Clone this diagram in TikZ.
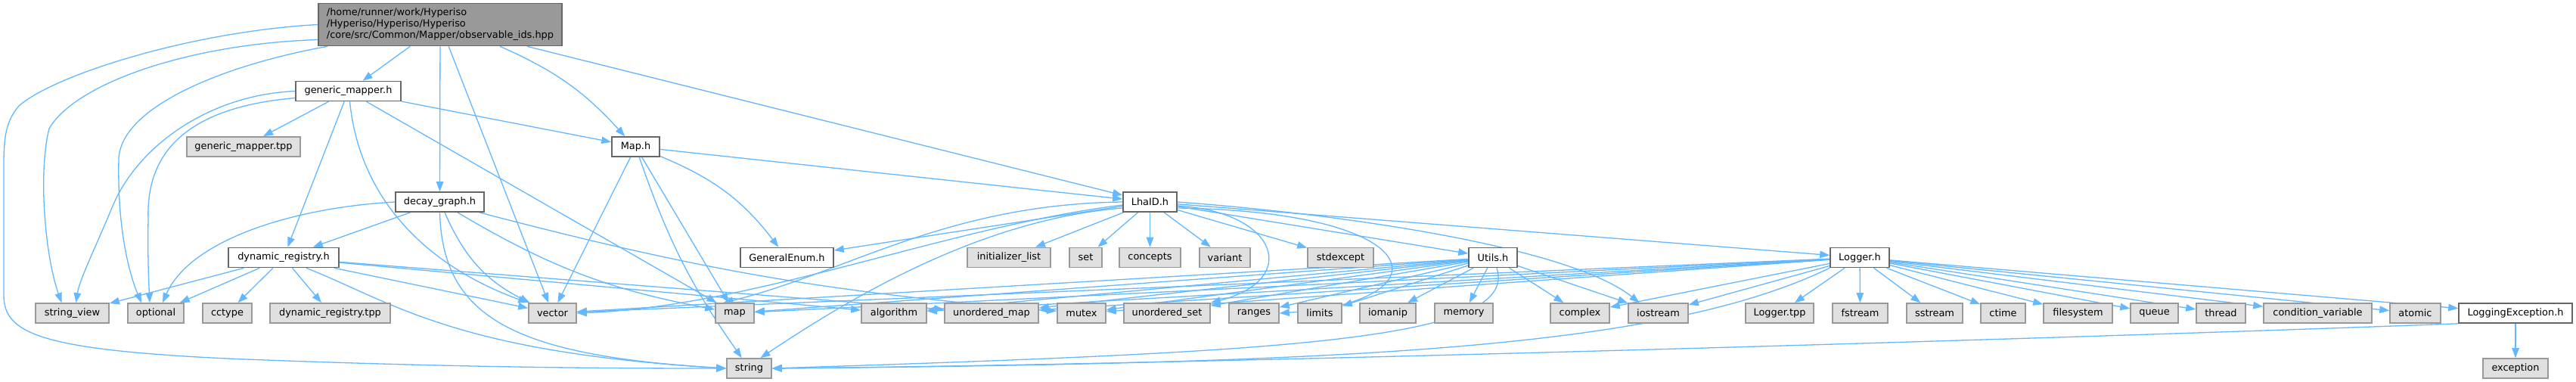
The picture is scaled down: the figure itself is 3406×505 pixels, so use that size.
\documentclass[tikz,border=0pt]{standalone}
\usepackage{fontspec}
\setmainfont{DejaVu Sans}
\usetikzlibrary{arrows.meta,backgrounds}
\definecolor{edgeblue}{HTML}{63B8FF}
\definecolor{rootfill}{HTML}{999999}
\definecolor{darkline}{HTML}{666666}
\definecolor{sysfill}{HTML}{E0E0E0}
\definecolor{sysline}{HTML}{999999}

\begin{document}
\begin{tikzpicture}[x=1pt, y=-1pt,
    boxfont/.style={font=\fontsize{12.9}{15}\selectfont, inner sep=0pt},
    mainh/.style={boxfont, draw=darkline, fill=rootfill, line width=1.6pt, minimum height=56, align=left},
    fileh/.style={boxfont, draw=darkline, fill=white, line width=1.6pt, minimum height=26},
    sysh/.style={boxfont, draw=sysline, fill=sysfill, line width=1.6pt, minimum height=26},
    dep/.style={draw=edgeblue, line width=1.3pt, -{Triangle[length=13pt,width=9.5pt]}}]
    \useasboundingbox (0,0) rectangle (3406,505);

    \node [mainh, minimum width=322] (obs) at (582,32.5) {/home/runner/work/Hyperiso\\/Hyperiso/Hyperiso/Hyperiso\\/core/src/Common/Mapper/observable\_ids.hpp};

    \node [fileh, minimum width=139] (gmapper) at (460.5,120.5) {generic\_mapper.h};
    \node [sysh, minimum width=150] (gmtpp) at (322,194) {generic\_mapper.tpp};
    \node [fileh, minimum width=63] (maph) at (840.5,194) {Map.h};
    \node [fileh, minimum width=117] (decay) at (581.5,267) {decay\_graph.h};
    \node [fileh, minimum width=71] (lhaid) at (1520.5,267) {LhaID.h};

    \node [fileh, minimum width=146] (dynreg) at (375,340.5) {dynamic\_registry.h};
    \node [fileh, minimum width=123] (genenum) at (1040.5,340.5) {GeneralEnum.h};
    \node [sysh, minimum width=110] (initlist) at (1334,340.5) {initializer\_list};
    \node [sysh, minimum width=43] (setinc) at (1435.5,340.5) {set};
    \node [sysh, minimum width=81] (concepts) at (1520.5,340.5) {concepts};
    \node [sysh, minimum width=67] (variant) at (1619.5,340.5) {variant};
    \node [sysh, minimum width=87] (stdexc) at (1772.5,340.5) {stdexcept};
    \node [fileh, minimum width=64] (utils) at (1974,340.5) {Utils.h};
    \node [fileh, minimum width=78] (logger) at (2459,340.5) {Logger.h};

    \node [sysh, minimum width=97] (sview) at (95.5,414) {string\_view};
    \node [sysh, minimum width=74] (opt) at (206,414) {optional};
    \node [sysh, minimum width=65] (cctype) at (300.5,414) {cctype};
    \node [sysh, minimum width=159] (dyntpp) at (436.5,414) {dynamic\_registry.tpp};
    \node [sysh, minimum width=63] (vector) at (730.5,414) {vector};
    \node [sysh, minimum width=51] (map) at (971.5,414) {map};
    \node [sysh, minimum width=86] (algo) at (1182,414) {algorithm};
    \node [sysh, minimum width=124] (umap) at (1311,414) {unordered\_map};
    \node [sysh, minimum width=64] (mutex) at (1430,414) {mutex};
    \node [sysh, minimum width=114] (uset) at (1543,414) {unordered\_set};
    \node [sysh, minimum width=66] (ranges) at (1658,414) {ranges};
    \node [sysh, minimum width=58] (limits) at (1745,414) {limits};
    \node [sysh, minimum width=74] (iomanip) at (1835,414) {iomanip};
    \node [sysh, minimum width=77] (memory) at (1935.5,414) {memory};
    \node [sysh, minimum width=78] (complex) at (2089,414) {complex};
    \node [sysh, minimum width=79] (iostream) at (2192.5,414) {iostream};
    \node [sysh, minimum width=90] (logtpp) at (2353,414) {Logger.tpp};
    \node [sysh, minimum width=73] (fstream) at (2459.5,414) {fstream};
    \node [sysh, minimum width=74] (sstream) at (2558,414) {sstream};
    \node [sysh, minimum width=59] (ctime) at (2648.5,414) {ctime};
    \node [sysh, minimum width=91] (filesys) at (2747.5,414) {filesystem};
    \node [sysh, minimum width=63] (queue) at (2848.5,414) {queue};
    \node [sysh, minimum width=65] (thread) at (2936.5,414) {thread};
    \node [sysh, minimum width=143] (condvar) at (3064.5,414) {condition\_variable};
    \node [sysh, minimum width=67] (atomic) at (3193.5,414) {atomic};
    \node [fileh, minimum width=150] (logexc) at (3326,414) {LoggingException.h};

    \node [sysh, minimum width=59] (string) at (990.5,487) {string};
    \node [sysh, minimum width=86] (exception) at (3326,487) {exception};

    \begin{scope}[on background layer]
    \fill [white] (0,0) rectangle (3406,505);

    \draw [dep] (obs.west) .. controls (250,42) and (70,100) .. (25,140) .. controls (8,160) and (5,180) .. (5,220) -- (5,390) .. controls (5,440) and (50,462) .. (300,474) .. controls (600,486) and (800,487) .. (string.west);
    \draw [dep] ([yshift=-20pt]obs.west) .. controls (250,58) and (100,110) .. (65,170) .. controls (50,230) and (60,340) .. ([xshift=-14pt]sview.north);
    \draw [dep] ([xshift=13pt]obs.south west) .. controls (300,85) and (160,140) .. (157,210) .. controls (155,300) and (170,360) .. ([xshift=-19pt]opt.north);
    \draw [dep] (obs) -- (gmapper); \draw [dep] (obs) -- (decay); \draw [dep] (obs) -- (vector);
    \draw [dep] (obs) to[bend left=12] (maph); \draw [dep] (obs) -- (lhaid);

    \draw [dep] (gmapper.west) .. controls (280,125) and (185,190) .. (150,270) .. controls (125,330) and (105,370) .. ([xshift=5pt]sview.north);
    \draw [dep] ([yshift=-9pt]gmapper.west) .. controls (270,140) and (192,185) .. (196,290) .. controls (195,340) and (197,380) .. ([xshift=-8pt]opt.north);
    \draw [dep] (gmapper) -- (gmtpp); \draw [dep] (gmapper) -- (dynreg);
    \draw [dep] ([xshift=2pt]gmapper.south) .. controls (475,260) and (560,350) .. (vector.north west);
    \draw [dep] (gmapper) -- (map); \draw [dep] (gmapper) -- (maph);

    \draw [dep] (maph) -- (lhaid); \draw [dep] (maph) -- (map); \draw [dep] (maph) -- (vector);
    \draw [dep] (maph) to[bend left=15] (genenum); \draw [dep] (maph) to[bend right=8] (string);

    \draw [dep] (decay.west) .. controls (380,275) and (250,320) .. ([xshift=9pt]opt.north);
    \draw [dep] (decay) -- (dynreg);
    \draw [dep] (decay.south) .. controls (585,420) and (680,470) .. (string.west);
    \draw [dep] (decay) to[bend right=20] (vector); \draw [dep] (decay) to[bend right=10] (map);
    \draw [dep] (decay) to[bend right=5] (mutex);

    \draw [dep] (dynreg) -- (sview); \draw [dep] (dynreg) -- (opt); \draw [dep] (dynreg) -- (cctype);
    \draw [dep] (dynreg) -- (dyntpp); \draw [dep] (dynreg) -- (vector);
    \draw [dep] (dynreg) -- (algo); \draw [dep] (dynreg) -- (umap);
    \draw [dep] ([xshift=30pt]dynreg.south) .. controls (520,400) and (600,465) .. (string.west);

    \draw [dep] (lhaid) -- (genenum); \draw [dep] (lhaid) -- (initlist); \draw [dep] (lhaid) -- (setinc);
    \draw [dep] (lhaid) -- (concepts); \draw [dep] (lhaid) -- (variant); \draw [dep] (lhaid) -- (stdexc);
    \draw [dep] (lhaid) -- (utils); \draw [dep] (lhaid) -- (logger);
    \draw [dep] (lhaid.west) .. controls (1250,270) and (1120,360) .. ([xshift=-15pt]map.north);
    \draw [dep] ([yshift=-8pt]lhaid.west) .. controls (1300,290) and (1130,390) .. ([xshift=15pt]string.north);
    \draw [dep] ([yshift=-4pt]lhaid.west) .. controls (1250,300) and (1000,405) .. (vector.east);
    \draw [dep] (lhaid.east) .. controls (1800,285) and (2080,330) .. ([xshift=-25pt]iostream.north);
    \draw [dep] ([yshift=-5pt]lhaid.east) .. controls (1690,280) and (1720,370) .. (uset.north east);
    \draw [dep] ([yshift=-8pt]lhaid.east) .. controls (1900,280) and (1910,400) .. (ranges.east);

    \draw [dep] (utils) -- (vector); \draw [dep] (utils) -- (map); \draw [dep] (utils) -- (algo);
    \draw [dep] (utils) -- (umap); \draw [dep] (utils) -- (mutex); \draw [dep] (utils) -- (uset);
    \draw [dep] (utils) -- (ranges); \draw [dep] (utils) -- (limits); \draw [dep] (utils) -- (iomanip);
    \draw [dep] (utils) -- (memory); \draw [dep] (utils) -- (complex); \draw [dep] (utils) -- (iostream);
    \draw [dep] ([xshift=5pt]utils.south) .. controls (2010,450) and (1700,465) .. (string.east);

    \draw [dep] (logger) -- (vector); \draw [dep] (logger) -- (map); \draw [dep] (logger) -- (algo);
    \draw [dep] (logger) -- (umap); \draw [dep] (logger) -- (mutex); \draw [dep] (logger) -- (complex);
    \draw [dep] (logger) -- (iostream); \draw [dep] (logger) -- (logtpp); \draw [dep] (logger) -- (fstream);
    \draw [dep] (logger) -- (sstream); \draw [dep] (logger) -- (ctime); \draw [dep] (logger) -- (filesys);
    \draw [dep] (logger) -- (queue); \draw [dep] (logger) -- (thread); \draw [dep] (logger) -- (condvar);
    \draw [dep] (logger) -- (atomic); \draw [dep] (logger) -- (logexc);
    \draw [dep] (logger.south west) .. controls (2200,460) and (1800,480) .. (string.east);

    \draw [dep] (logexc) -- (exception);
    \draw [dep] (logexc.south west) .. controls (2800,445) and (1600,482) .. (string.east);
    \end{scope}
\end{tikzpicture}
\end{document}
